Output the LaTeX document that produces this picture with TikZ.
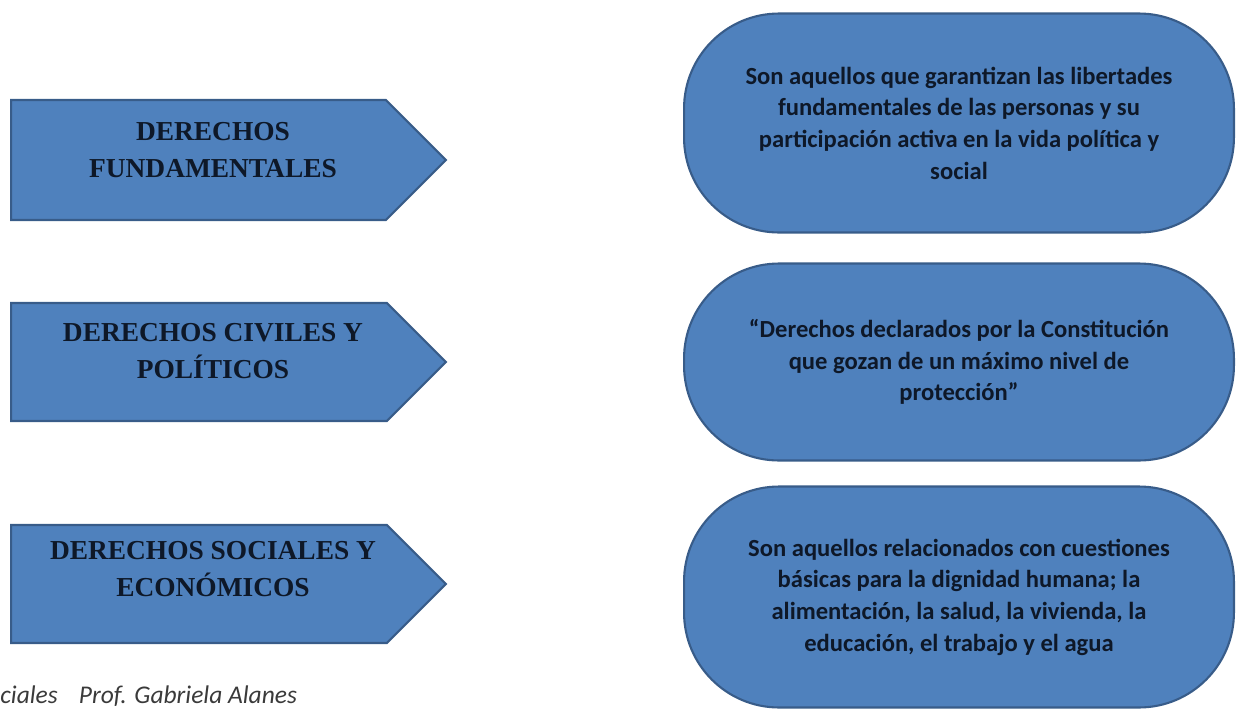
\documentclass[tikz,border=0pt]{standalone}
\usepackage{fontspec}
\setmainfont{Liberation Serif}
\newfontfamily\calib{Carlito}
\usetikzlibrary{shapes.symbols, positioning}
\definecolor{Fill}{HTML}{4F81BD}
\definecolor{Edge}{HTML}{385C89}
\definecolor{Ink} {HTML}{0E1828}
\definecolor{Foot}{HTML}{3A3A3A}
\tikzset{
  flecha/.style={shape=signal, signal to=east, signal pointer angle=90,
                 draw=Edge, line width=1.2pt, fill=Fill, inner sep=0pt,
                 minimum width=8.7cm, anchor=west},
  titulo/.style={align=center, text=Ink, font=\fontsize{15.6}{21}\selectfont\bfseries}
}

\begin{document}
\begin{tikzpicture}[
  x=0.02cm, y=-0.02cm,
  caja/.style={draw=Edge, line width=1.2pt, fill=Fill, rounded corners=1.9cm,
               minimum width=11cm, anchor=west, align=center, text=Ink,
               font=\calib\fontsize{14}{18}\selectfont\bfseries},
  pie/.style={anchor=base west, inner sep=0pt, text=Foot,
              font=\calib\fontsize{14.5}{17}\selectfont\itshape}
]
  \useasboundingbox (0,0) rectangle (1238,711);

  % flechas de la izquierda
  \node[flecha, minimum height=2.4cm]  (F1) at (10,160) {};
  \node[flecha, minimum height=2.36cm] (F2) at (10,362) {};
  \node[flecha, minimum height=2.36cm] (F3) at (10,584) {};
  \node[titulo] (T1) at (213,150) {DERECHOS\\FUNDAMENTALES};
  \node[titulo] (T2) at (213,351) {DERECHOS CIVILES Y\\POLÍTICOS};
  \node[titulo] (T3) at (213,569) {DERECHOS SOCIALES Y\\ECONÓMICOS};

  % definiciones
  \node[caja, minimum height=4.38cm] (C1) at (683,123)
    {Son aquellos que garantizan las libertades\\fundamentales de las personas y su\\
     participación activa en la vida política y\\social};
  \node[caja, minimum height=3.94cm] (C2) at (683,362)
    {“Derechos declarados por la Constitución\\que gozan de un máximo nivel de\\protección”};
  \node[caja, minimum height=4.42cm] (C3) at (683,597)
    {Son aquellos relacionados con cuestiones\\básicas para la dignidad humana; la\\
     alimentación, la salud, la vivienda, la\\educación, el trabajo y el agua};

  \node[pie] (P) at (0,703) {ciales\hspace{12pt}Prof. Gabriela Alanes};
\end{tikzpicture}
\end{document}
